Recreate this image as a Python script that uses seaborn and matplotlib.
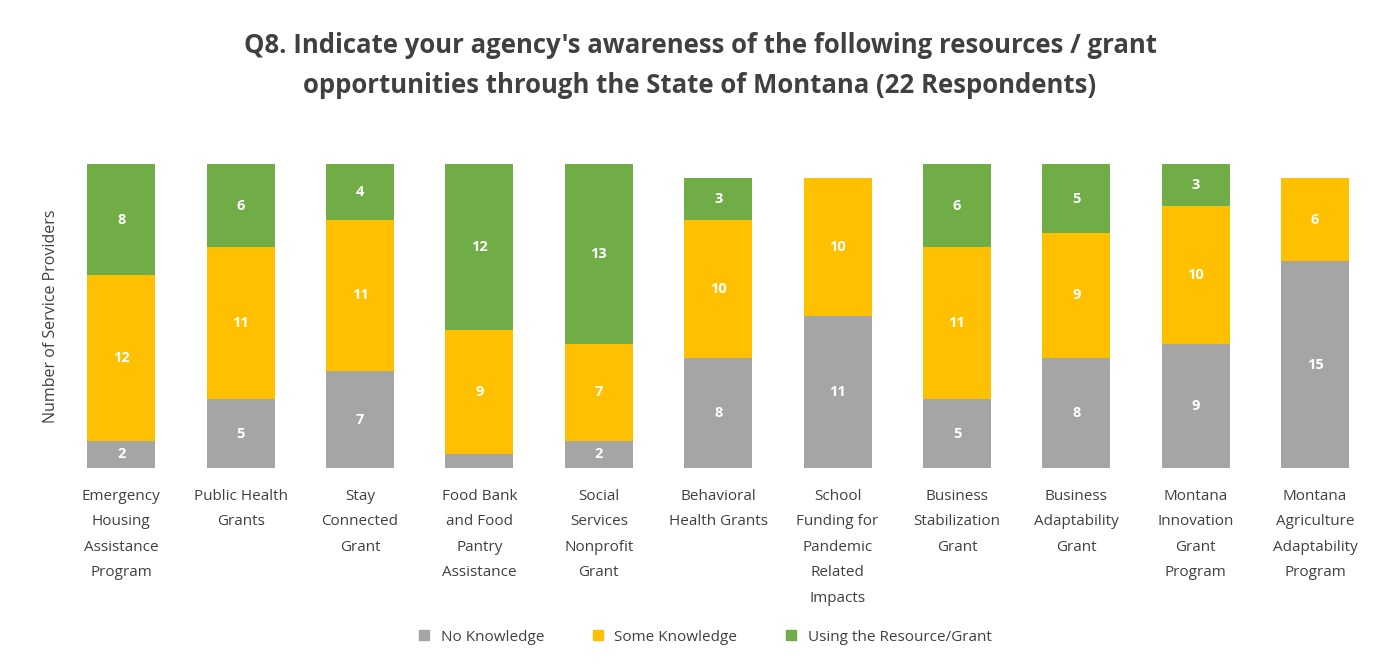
import matplotlib
matplotlib.use("Agg")
import matplotlib.pyplot as plt
import seaborn as sns
import numpy as np

categories = [
    "Emergency\nHousing\nAssistance\nProgram",
    "Public Health\nGrants",
    "Stay\nConnected\nGrant",
    "Food Bank\nand Food\nPantry\nAssistance",
    "Social\nServices\nNonprofit\nGrant",
    "Behavioral\nHealth Grants",
    "School\nFunding for\nPandemic\nRelated\nImpacts",
    "Business\nStabilization\nGrant",
    "Business\nAdaptability\nGrant",
    "Montana\nInnovation\nGrant\nProgram",
    "Montana\nAgriculture\nAdaptability\nProgram",
]
no_knowledge = [2, 5, 7, 1, 2, 8, 11, 5, 8, 9, 15]
some_knowledge = [12, 11, 11, 9, 7, 10, 10, 11, 9, 10, 6]
using_resource = [8, 6, 4, 12, 13, 3, 0, 6, 5, 3, 0]

series_names = ["No Knowledge", "Some Knowledge", "Using the Resource/Grant"]
colors = ["#A5A5A5", "#FFC000", "#70AD47"]

title = ("Q8. Indicate your agency's awareness of the following resources / grant\n"
         "opportunities through the State of Montana (22 Respondents)")

sns.set_theme(style="white")
plt.rcParams["font.family"] = ["Open Sans", "DejaVu Sans"]

fig = plt.figure(figsize=(14, 6.65), dpi=100)
ax = fig.add_axes([0.044, 0.296, 0.938, 0.457])

no = np.array(no_knowledge)
some = np.array(some_knowledge)
use = np.array(using_resource)
tops = [no + some + use, no + some, no]
layer_colors = [colors[2], colors[1], colors[0]]

# Stacked bars: draw cumulative heights from tallest to shortest
for heights, c in zip(tops, layer_colors):
    sns.barplot(x=categories, y=heights, color=c, saturation=1, width=0.57,
                ax=ax, linewidth=0)

# Segment value labels
bottoms = [np.zeros_like(no), no, no + some]
for vals, bot in zip([no, some, use], bottoms):
    for i, (v, b) in enumerate(zip(vals, bot)):
        if v >= 2:
            ax.text(i, b + v / 2, str(v), ha="center", va="center",
                    color="white", fontsize=10.5, fontweight="bold")

ax.set_xlim(-0.5, len(categories) - 0.5)
ax.set_ylim(0, 22)
ax.set_yticks([])
ax.tick_params(axis="x", length=0, pad=15, labelsize=11, labelcolor="#404040")
for lbl in ax.get_xticklabels():
    lbl.set_linespacing(1.95)
    lbl.set_verticalalignment("top")
for s in ax.spines.values():
    s.set_visible(False)
ax.set_ylabel("Number of Service Providers", fontsize=11.5, color="#404040", labelpad=2)

fig.suptitle(title, x=0.5, y=0.952, fontsize=18.5, fontweight="bold",
             color="#404040", linespacing=1.6)

handles = [plt.Line2D([], [], marker="s", linestyle="", markersize=7,
                      markerfacecolor=c, markeredgecolor=c) for c in colors]
fig.legend(handles, series_names, loc="center", bbox_to_anchor=(0.5, 0.042),
           ncol=3, frameon=False, fontsize=11, handletextpad=0.1,
           columnspacing=2.5, labelcolor="#404040")

fig.savefig("out.png", dpi=100, facecolor="white")
